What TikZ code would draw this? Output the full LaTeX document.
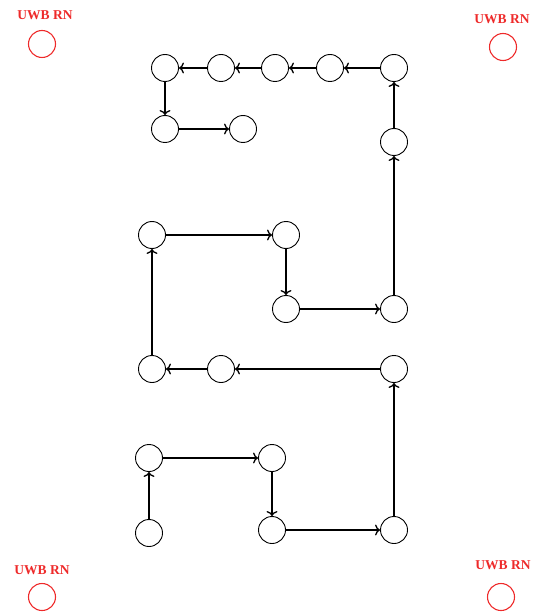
\documentclass[tikz,border=0pt]{standalone}
\usepackage{fontspec}
\setmainfont{Liberation Serif}
\usepackage{tikz}
\usetikzlibrary{positioning, arrows.meta}
\definecolor{rnred}{HTML}{EE2A2A}
\tikzset{
	pathnode/.style={
			circle,
			draw=black,
			line width=0.9pt,
			fill=white,
			minimum size=27pt,
			inner sep=0pt
		},
	rnnode/.style={
			circle,
			draw=rnred,
			line width=1.1pt,
			minimum size=27pt,
			inner sep=0pt
		},
	rnlabel/.style={
			text=rnred,
			font=\fontsize{13.5}{15}\selectfont\bfseries,
			inner sep=0pt
		},
	pathedge/.style={
			-{To[length=5pt,width=11pt,line width=1.3pt]},
			line width=1.3pt
		}
}

\begin{document}
\begin{tikzpicture}[x=1pt, y=-1pt]
\useasboundingbox (0,0) rectangle (538,612);

% reference nodes
\node[rnnode] (rn1) at (42,44) {};
\node[rnlabel] (l1) at (45,15) {UWB RN};
\node[rnnode] (rn2) at (503,47) {};
\node[rnlabel] (l2) at (502,19) {UWB RN};
\node[rnnode] (rn3) at (42,597) {};
\node[rnlabel] (l3) at (42,570) {UWB RN};
\node[rnnode] (rn4) at (501,597) {};
\node[rnlabel] (l4) at (503,565) {UWB RN};

% path
\node[pathnode] (p1) at (149,533) {};
\node[pathnode] (p2) at (149,458) {};
\node[pathnode] (p3) at (272,458) {};
\node[pathnode] (p4) at (272,530) {};
\node[pathnode] (p5) at (394,530) {};
\node[pathnode] (p6) at (394,369) {};
\node[pathnode] (p7) at (221,369) {};
\node[pathnode] (p8) at (152,369) {};
\node[pathnode] (p9) at (152,235) {};
\node[pathnode] (p10) at (286,235) {};
\node[pathnode] (p11) at (286,309) {};
\node[pathnode] (p12) at (394,309) {};
\node[pathnode] (p13) at (394,142) {};
\node[pathnode] (p14) at (394,68) {};
\node[pathnode] (p15) at (330,68) {};
\node[pathnode] (p16) at (275,68) {};
\node[pathnode] (p17) at (221,68) {};
\node[pathnode] (p18) at (165,68) {};
\node[pathnode] (p19) at (165,129) {};
\node[pathnode] (p20) at (243,129) {};

\foreach \i [evaluate=\i as \j using int(\i+1)] in {1,...,19}
  \draw[pathedge] (p\i) -- (p\j);

\end{tikzpicture}
\end{document}
